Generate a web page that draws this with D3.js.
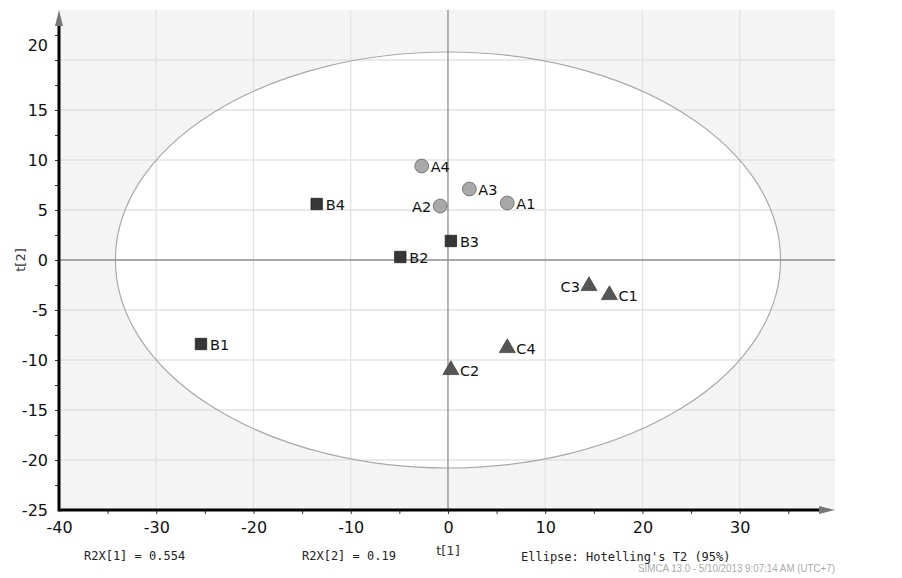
<!DOCTYPE html>
<html lang="en">
<head>
    <meta charset="utf-8">
    <title>Score Plot</title>
    <script src="https://d3js.org/d3.v7.min.js"></script>
    <style>
        body { margin: 0; background: #fff; }
        .tick text { font-family: "DejaVu Sans", Verdana, sans-serif; font-size: 16px; fill: #111; }
        .lbl { font-family: "DejaVu Sans", Verdana, sans-serif; font-size: 14.5px; fill: #111; }
        .mono { font-family: "DejaVu Sans Mono", monospace; font-size: 12px; fill: #222; }
    </style>
</head>
<body>
    <svg id="plot"></svg>

    <script>
        // observation names, groups and scores
        var names  = ["A1", "A2", "A3", "A4", "B1", "B2", "B3", "B4", "C1", "C2", "C3", "C4"];
        var groups = ["A", "A", "A", "A", "B", "B", "B", "B", "C", "C", "C", "C"];
        var t1 = [6.1, -0.8, 2.2, -2.7, -25.4, -4.9, 0.3, -13.5, 16.6, 0.3, 14.5, 6.1];
        var t2 = [5.7, 5.4, 7.1, 9.4, -8.4, 0.3, 1.9, 5.6, -3.5, -11.0, -2.6, -8.8];
        var leftLabels = ["A2", "C3"];

        var xTicks = [-40, -30, -20, -10, 0, 10, 20, 30];
        var yTicks = [-25, -20, -15, -10, -5, 0, 5, 10, 15, 20];
        var ellipseRadius = [34.2, 20.8]; // Hotelling's T2 (95%)

        var width = 902, height = 578;
        var margin = { top: 10, right: 67, bottom: 68, left: 59 };
        var w = width - margin.left - margin.right;
        var h = height - margin.top - margin.bottom;

        var svg = d3.select("#plot")
            .attr("width", width)
            .attr("height", height);

        var g = svg.append("g")
            .attr("transform", "translate(" + margin.left + "," + margin.top + ")");

        var xScale = d3.scaleLinear().domain([-40, 39.8]).range([0, w]);
        var yScale = d3.scaleLinear().domain([-25, 25]).range([h, 0]);
        var fmt = function (d) { return String(d); };

        // background
        g.append("rect").attr("width", w).attr("height", h).attr("fill", "#f4f4f4");

        g.append("ellipse")
            .attr("cx", xScale(0)).attr("cy", yScale(0))
            .attr("rx", xScale(ellipseRadius[0]) - xScale(0))
            .attr("ry", yScale(0) - yScale(ellipseRadius[1]))
            .attr("fill", "#fff");

        // grid
        g.selectAll(".gx").data(xTicks.filter(function (d) { return d !== 0 && d !== -40; }))
            .enter().append("line")
            .attr("x1", function (d) { return xScale(d); })
            .attr("x2", function (d) { return xScale(d); })
            .attr("y1", 0).attr("y2", h)
            .attr("stroke", "#e2e2e2").attr("stroke-width", 1.3);

        g.selectAll(".gy").data(yTicks.filter(function (d) { return d !== 0 && d !== -25; }))
            .enter().append("line")
            .attr("y1", function (d) { return yScale(d); })
            .attr("y2", function (d) { return yScale(d); })
            .attr("x1", 0).attr("x2", w)
            .attr("stroke", "#e2e2e2").attr("stroke-width", 1.3);

        g.append("ellipse")
            .attr("cx", xScale(0)).attr("cy", yScale(0))
            .attr("rx", xScale(ellipseRadius[0]) - xScale(0))
            .attr("ry", yScale(0) - yScale(ellipseRadius[1]))
            .attr("fill", "none").attr("stroke", "#aaa").attr("stroke-width", 1.2);

        // zero lines
        g.append("line").attr("x1", xScale(0)).attr("x2", xScale(0)).attr("y1", 0).attr("y2", h)
            .attr("stroke", "#8c8c8c").attr("stroke-width", 1.3);
        g.append("line").attr("y1", yScale(0)).attr("y2", yScale(0)).attr("x1", 0).attr("x2", w)
            .attr("stroke", "#8c8c8c").attr("stroke-width", 1.3);

        // axes
        g.append("g")
            .attr("transform", "translate(0," + h + ")")
            .call(d3.axisBottom(xScale).tickValues(d3.range(-35, 40, 5)).tickSize(4).tickFormat(""));
        g.append("g")
            .attr("transform", "translate(0," + h + ")")
            .call(d3.axisBottom(xScale).tickValues(xTicks).tickSize(0).tickPadding(12).tickFormat(fmt));

        g.append("g")
            .call(d3.axisLeft(yScale).tickValues(d3.range(-22.5, 25, 2.5)).tickSize(4).tickFormat(""));
        var yAxis = g.append("g")
            .call(d3.axisLeft(yScale).tickValues(yTicks).tickSize(0).tickPadding(11).tickFormat(fmt));
        yAxis.selectAll(".tick").filter(function (d) { return d === 20; })
            .select("text").attr("dy", "-0.6em");

        g.selectAll(".domain").remove();
        g.selectAll(".tick line").attr("stroke", "#333");

        g.append("line").attr("x1", 0).attr("x2", w - 14).attr("y1", h).attr("y2", h)
            .attr("stroke", "#000").attr("stroke-width", 3);
        g.append("line").attr("x1", 0).attr("x2", 0).attr("y1", h + 1.5).attr("y2", 14)
            .attr("stroke", "#000").attr("stroke-width", 3);
        g.append("path")
            .attr("d", "M" + (w - 16) + "," + (h - 4) + "L" + w + "," + h + "L" + (w - 16) + "," + (h + 4) + "Z")
            .attr("fill", "#777");
        g.append("path")
            .attr("d", "M-4,16L0,0L4,16Z")
            .attr("fill", "#777");

        // markers
        var pts = names.map(function (n, i) {
            return { name: n, group: groups[i], x: t1[i], y: t2[i] };
        });

        var shapes = { A: d3.symbolCircle, B: d3.symbolSquare, C: d3.symbolTriangle };
        var sizes = { A: 150, B: 130, C: 110 };
        var fills = { A: "#a9a9a9", B: "#363636", C: "#555" };
        var strokes = { A: "#666", B: "#222", C: "#444" };

        g.selectAll(".pt").data(pts).enter().append("path")
            .attr("transform", function (d) { return "translate(" + xScale(d.x) + "," + yScale(d.y) + ")"; })
            .attr("d", function (d) { return d3.symbol().type(shapes[d.group]).size(sizes[d.group])(); })
            .attr("fill", function (d) { return fills[d.group]; })
            .attr("stroke", function (d) { return strokes[d.group]; })
            .attr("stroke-width", 0.8);

        g.selectAll(".lbl").data(pts).enter().append("text")
            .attr("class", "lbl")
            .attr("x", function (d) { return xScale(d.x) + (leftLabels.indexOf(d.name) >= 0 ? -9 : 9); })
            .attr("y", function (d) { return yScale(d.y); })
            .attr("dy", "0.38em")
            .attr("text-anchor", function (d) { return leftLabels.indexOf(d.name) >= 0 ? "end" : "start"; })
            .text(function (d) { return d.name; });

        // axis titles
        svg.append("text")
            .attr("transform", "translate(25," + (margin.top + yScale(0)) + ") rotate(-90)")
            .attr("text-anchor", "middle")
            .style("font-family", "DejaVu Sans, sans-serif").style("font-size", "13px").style("fill", "#333")
            .text("t[2]");
        svg.append("text")
            .attr("x", margin.left + xScale(0)).attr("y", 555)
            .attr("text-anchor", "middle")
            .style("font-family", "DejaVu Sans, sans-serif").style("font-size", "13px").style("fill", "#333")
            .text("t[1]");

        // footer
        svg.append("text").attr("class", "mono").attr("x", 84).attr("y", 560).text("R2X[1] = 0.554");
        svg.append("text").attr("class", "mono").attr("x", 302).attr("y", 560).text("R2X[2] = 0.19");
        svg.append("text").attr("class", "mono").attr("x", 521).attr("y", 561).text("Ellipse: Hotelling's T2 (95%)");
        svg.append("text")
            .attr("x", 638).attr("y", 572)
            .attr("textLength", 197).attr("lengthAdjust", "spacingAndGlyphs")
            .style("font-family", "Liberation Sans, sans-serif").style("font-size", "11px").style("fill", "#aaa")
            .text("SIMCA 13.0 - 5/10/2013 9:07:14 AM (UTC+7)");
    </script>
</body>
</html>
